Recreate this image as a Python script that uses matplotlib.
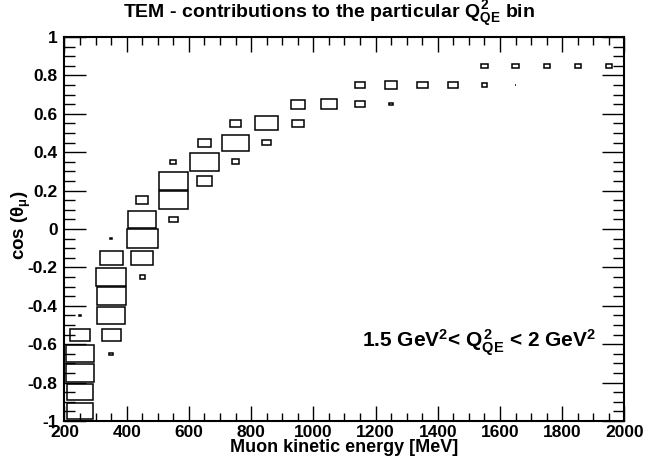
import matplotlib.pyplot as plt
import numpy as np
from matplotlib.patches import Rectangle
from matplotlib.ticker import MultipleLocator

plt.rcParams['font.family'] = 'Liberation Sans'
plt.rcParams['font.weight'] = 'bold'
plt.rcParams['mathtext.fontset'] = 'custom'
plt.rcParams['mathtext.rm'] = 'Liberation Sans:bold'
plt.rcParams['mathtext.it'] = 'Liberation Sans:bold'
plt.rcParams['mathtext.bf'] = 'Liberation Sans:bold'

# non-empty cells of the 2D histogram (bin centres and contents, arbitrary units)
energy = [250, 250, 250, 250, 250, 250,
          350, 350, 350, 350, 350, 350, 350,
          450, 450, 450, 450, 450,
          550, 550, 550, 550,
          650, 650, 650,
          750, 750, 750,
          850, 850,
          950, 950,
          1050,
          1150, 1150,
          1250, 1250,
          1350, 1450,
          1550, 1550,
          1650, 1650,
          1750, 1850, 1950]
cos_theta = [-0.95, -0.85, -0.75, -0.65, -0.55, -0.45,
             -0.65, -0.55, -0.45, -0.35, -0.25, -0.15, -0.05,
             -0.25, -0.15, -0.05, 0.05, 0.15,
             0.05, 0.15, 0.25, 0.35,
             0.25, 0.35, 0.45,
             0.35, 0.45, 0.55,
             0.45, 0.55,
             0.55, 0.65,
             0.65,
             0.65, 0.75,
             0.65, 0.75,
             0.75, 0.75,
             0.75, 0.85,
             0.75, 0.85,
             0.85, 0.85, 0.85]
content = [71, 72, 83, 76, 38, 0.5,
           1.7, 38, 85, 88, 96, 55, 0.25,
           2.6, 50, 100, 83, 16,
           7.8, 83, 83, 3.6,
           23, 86, 17,
           6.2, 71, 11.6,
           7.3, 53,
           13.7, 22,
           25,
           9.6, 12.3,
           1.4, 16,
           11.6, 10.2,
           2.9, 4.4,
           0.16, 4.4,
           4.0, 4.4, 4.0]

x_bin = 100.0
y_bin = 0.1

fig = plt.figure(figsize=(6.46, 4.57), dpi=100)
ax = fig.add_axes([0.0998, 0.0788, 0.8669, 0.8402])

# ROOT "box" style: box area proportional to the cell content
cmax = max(content)
for e, c, z in zip(energy, cos_theta, content):
    r = np.sqrt(z / cmax)
    w = x_bin * r
    h = y_bin * r
    ax.add_patch(Rectangle((e - w / 2, c - h / 2), w, h, fill=False,
                           edgecolor='black', linewidth=1.1))

ax.set_xlim(200, 2000)
ax.set_ylim(-1, 1)

ax.xaxis.set_major_locator(MultipleLocator(200))
ax.xaxis.set_minor_locator(MultipleLocator(50))
ax.yaxis.set_major_locator(MultipleLocator(0.2))
ax.yaxis.set_minor_locator(MultipleLocator(0.05))
ax.yaxis.set_major_formatter(plt.FuncFormatter(lambda v, p: '%g' % round(v, 2)))

ax.tick_params(axis='x', which='both', direction='in', top=True, labelsize=12.5, pad=3, width=1)
ax.tick_params(axis='x', which='major', length=11)
ax.tick_params(axis='x', which='minor', length=5.5)
ax.tick_params(axis='y', which='both', direction='in', right=True, labelsize=12.5, pad=5, width=1)
ax.tick_params(axis='y', which='major', length=16)
ax.tick_params(axis='y', which='minor', length=8)
for s in ax.spines.values():
    s.set_linewidth(1.5)

ax.set_xlabel('Muon kinetic energy [MeV]', fontsize=13, fontweight='bold', labelpad=-1)
ax.set_ylabel(r'cos ($\theta_{\mu}$)', fontsize=13.5, fontweight='bold')
ax.yaxis.set_label_coords(-0.056, 0.51)
fig.text(0.51, 0.9606, r'TEM - contributions to the particular $Q^2_{QE}$ bin',
         ha='center', va='baseline', fontsize=14, fontweight='bold')

ax.text(1155, -0.618, r'1.5 GeV$^2$< $Q^2_{QE}$ < 2 GeV$^2$',
        ha='left', va='baseline', fontsize=15, fontweight='bold')

plt.savefig('out.png', dpi=100)
